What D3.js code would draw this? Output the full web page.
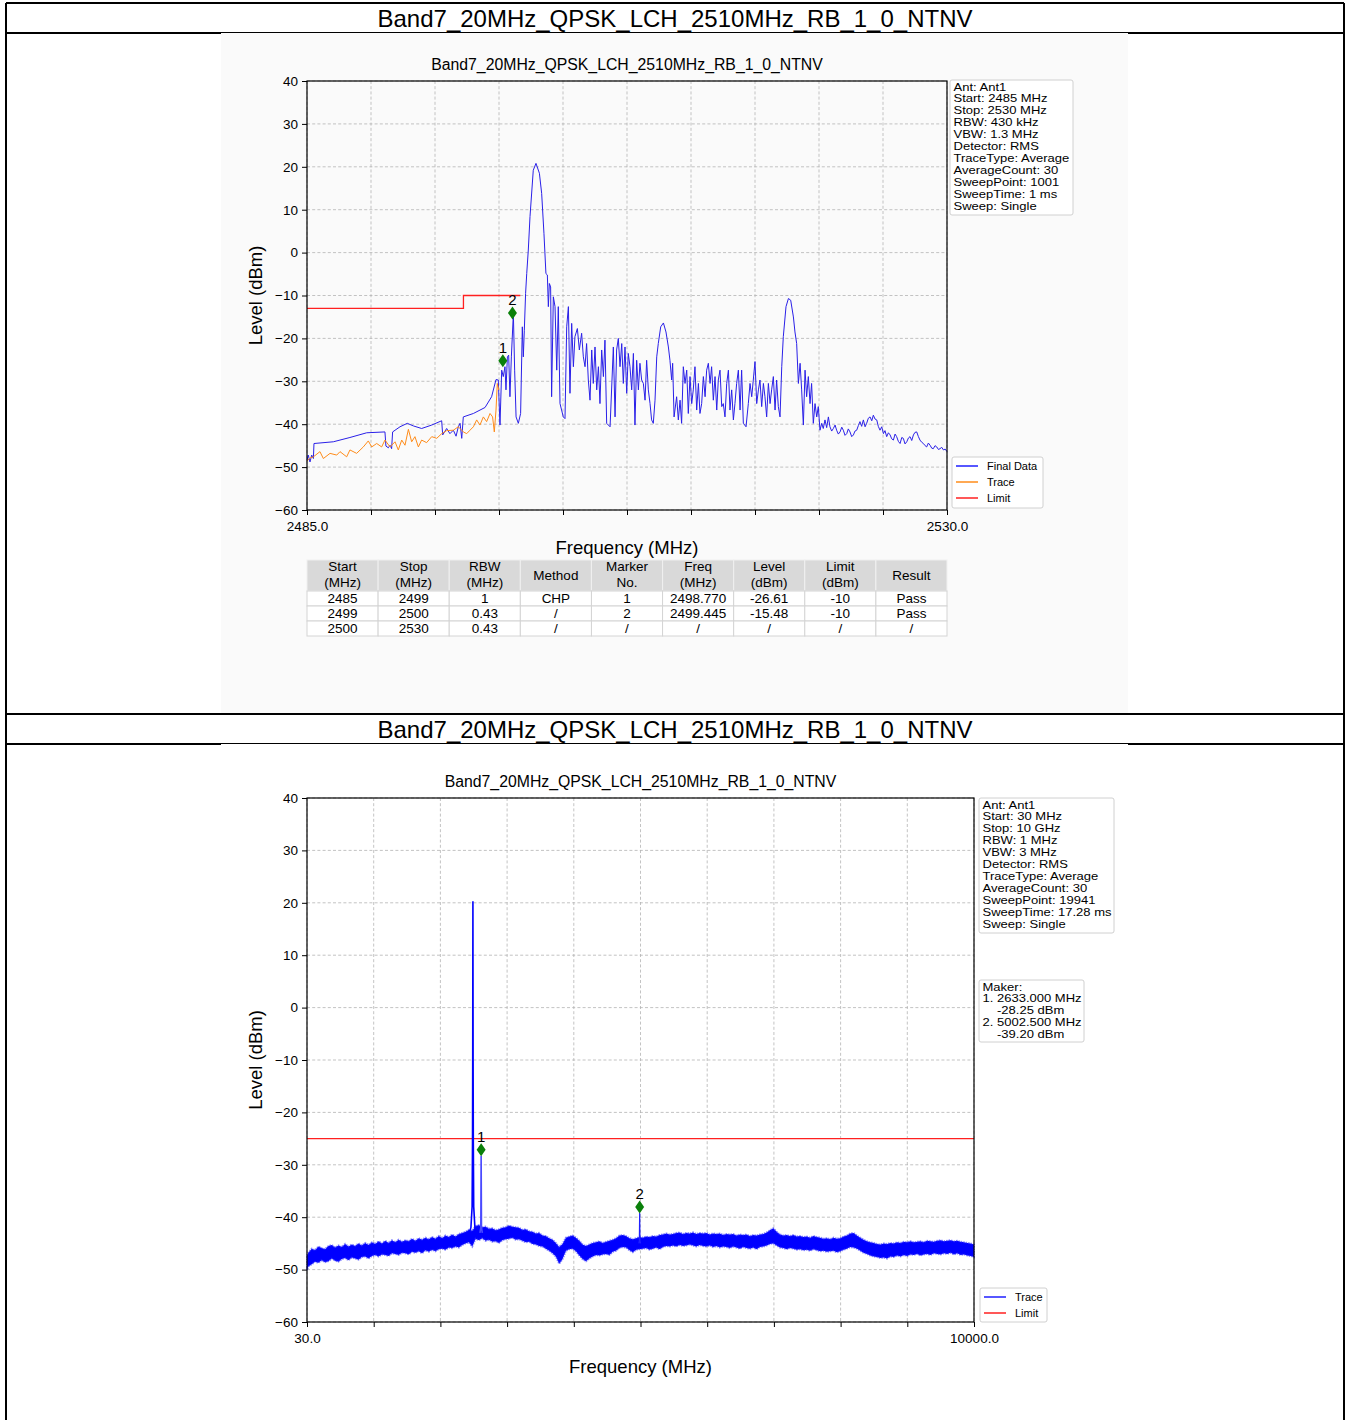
<!DOCTYPE html>
<html><head><meta charset="utf-8">
<script src="https://cdn.jsdelivr.net/npm/d3@7/dist/d3.min.js"></script>
<style>
body{margin:0;background:#fff;}
svg{display:block;}
text{font-family:"Liberation Sans",Arial,sans-serif;fill:#000;}
</style>
</head><body>
<svg id="c" width="1346" height="1420"></svg>
<script>
// ---------------- DATA ----------------
const rowTitle = "Band7_20MHz_QPSK_LCH_2510MHz_RB_1_0_NTNV";
const chartTitle = "Band7_20MHz_QPSK_LCH_2510MHz_RB_1_0_NTNV";

const yTickValues = [-60,-50,-40,-30,-20,-10,0,10,20,30,40];
const yTickLabels = ["\u221260","\u221250","\u221240","\u221230","\u221220","\u221210","0","10","20","30","40"];

const topXTicks = [2485,2489.5,2494,2498.5,2503,2507.5,2512,2516.5,2521,2525.5,2530];
const topXTickLabels = ["2485.0","","","","","","","","","","2530.0"];
const botXTicks = [30,1027,2024,3021,4018,5015,6012,7009,8006,9003,10000];
const botXTickLabels = ["30.0","","","","","","","","","","10000.0"];

// Top chart: Final Data (blue)
const finalFreq = [
2485.00,2485.09,2485.21,2485.33,2485.45,2485.49,2486.85,2488.02,2489.20,2490.48,
2490.55,2490.72,2490.84,2490.95,2491.02,2491.54,2492.05,2492.48,2493.06,2493.77,
2494.47,2494.54,2494.82,2495.05,2495.29,2495.48,2495.64,2495.76,2495.88,2495.99,
2496.70,2497.52,2497.98,2498.29,2498.45,2498.57,2498.69,2498.80,2498.92,2498.99,
2499.09,2499.18,2499.27,2499.37,2499.51,2499.60,2499.70,2499.86,2500.02,2500.14,
2500.21,2500.28,2500.37,2500.45,2500.56,2500.68,2500.91,2501.10,2501.34,2501.50,
2501.66,2501.80,2501.90,2501.97,2502.04,2502.13,2502.20,2502.32,2502.44,2502.56,
2502.67,2502.79,2503.02,2503.14,2503.26,2503.38,2503.49,2503.61,2503.73,2503.84,
2504.01,2504.15,2504.31,2504.43,2504.55,2504.66,2504.78,2504.90,2505.02,2505.13,
2505.25,2505.37,2505.49,2505.60,2505.72,2505.84,2505.95,2506.07,2506.31,2506.54,
2506.66,2506.77,2506.89,2507.01,2507.13,2507.24,2507.36,2507.48,2507.59,2507.71,
2507.83,2507.95,2508.06,2508.18,2508.30,2508.41,2508.53,2508.65,2508.77,2508.88,
2509.00,2509.12,2509.23,2509.35,2509.47,2509.59,2509.70,2509.87,2510.06,2510.24,
2510.41,2510.52,2510.64,2510.71,2510.81,2510.99,2511.11,2511.23,2511.34,2511.46,
2511.58,2511.70,2511.81,2511.93,2512.05,2512.16,2512.28,2512.40,2512.52,2512.63,
2512.75,2512.87,2512.99,2513.10,2513.22,2513.34,2513.45,2513.57,2513.69,2513.81,
2513.92,2514.04,2514.16,2514.27,2514.39,2514.51,2514.63,2514.74,2514.86,2514.98,
2515.09,2515.21,2515.33,2515.45,2515.56,2515.68,2515.87,2516.03,2516.15,2516.27,
2516.38,2516.50,2516.62,2516.74,2516.85,2516.97,2517.09,2517.20,2517.32,2517.44,
2517.56,2517.67,2517.79,2517.91,2518.02,2518.14,2518.26,2518.38,2518.49,2518.68,
2518.85,2519.01,2519.20,2519.31,2519.43,2519.55,2519.67,2519.78,2519.90,2520.02,
2520.13,2520.25,2520.37,2520.48,2520.60,2520.72,2520.84,2520.95,2521.07,2521.19,
2521.30,2521.42,2521.54,2521.66,2521.77,2521.89,2522.01,2522.13,2522.24,2522.36,
2522.48,2522.60,2522.71,2522.83,2522.95,2523.06,2523.18,2523.30,2523.42,2523.53,
2523.65,2523.77,2523.88,2524.00,2524.12,2524.24,2524.35,2524.47,2524.59,2524.71,
2524.82,2524.94,2525.06,2525.17,2525.29,2525.41,2525.53,2525.64,2525.76,2525.88,
2526.00,2526.11,2526.23,2526.35,2526.46,2526.58,2526.70,2526.82,2526.93,2527.05,
2527.17,2527.29,2527.40,2527.52,2527.64,2527.75,2527.87,2527.99,2528.10,2528.22,
2528.34,2528.46,2528.57,2528.69,2528.81,2528.93,2529.04,2529.16,2529.28,2529.40,
2529.51,2529.63,2529.75,2529.87,2530.00];
const finalLevel = [
-48.4,-47.2,-48.8,-47.2,-48.0,-44.5,-44.1,-43.1,-42.0,-41.8,
-45.1,-45.5,-44.9,-45.7,-41.8,-40.6,-39.8,-40.4,-41.0,-40.2,
-39.2,-42.5,-41.0,-42.2,-41.4,-42.8,-40.6,-39.8,-43.3,-38.3,
-37.5,-36.1,-33.6,-29.6,-29.7,-40.2,-27.4,-28.9,-26.6,-32.0,
-24.3,-23.9,-33.6,-24.3,-14.2,-27.4,-38.3,-39.8,-37.5,-17.3,
-24.3,-18.1,-9.5,-4.9,0.6,8.4,19.2,20.8,18.5,13.8,
4.5,-4.9,-5.2,-12.6,-7.2,-8.0,-33.6,-10.3,-12.6,-27.4,
-12.6,-35.2,-38.3,-38.7,-17.3,-12.6,-32.8,-16.5,-26.6,-19.6,
-17.7,-22.7,-18.8,-24.3,-26.6,-21.2,-29.7,-34.4,-22.7,-30.5,
-22.0,-32.0,-26.6,-35.2,-22.7,-28.9,-20.4,-39.8,-40.6,-22.0,
-38.3,-22.7,-20.0,-26.6,-21.2,-30.5,-22.0,-32.8,-23.5,-26.6,
-32.0,-23.5,-40.2,-25.1,-32.0,-25.8,-29.7,-30.5,-34.4,-25.1,
-32.0,-35.2,-39.0,-39.8,-34.4,-24.3,-21.2,-17.3,-16.4,-18.5,
-22.0,-25.1,-29.7,-25.8,-38.3,-33.6,-39.0,-34.4,-39.8,-26.6,
-30.5,-27.4,-37.5,-28.9,-35.2,-32.0,-26.6,-36.7,-30.5,-37.5,
-35.2,-28.9,-33.6,-27.4,-25.8,-30.5,-26.6,-34.4,-28.9,-36.7,
-29.7,-27.4,-35.9,-35.2,-38.3,-30.5,-27.4,-36.7,-32.0,-39.0,
-35.2,-30.5,-27.4,-36.7,-27.4,-39.8,-40.6,-35.2,-30.5,-33.6,
-29.7,-25.4,-35.2,-32.0,-29.7,-35.9,-30.5,-33.6,-38.3,-30.5,
-35.2,-32.0,-28.9,-36.7,-29.7,-35.9,-38.3,-26.6,-19.6,-12.6,
-10.7,-11.1,-15.0,-18.5,-21.2,-30.5,-25.8,-32.0,-40.2,-27.4,
-33.6,-28.9,-35.2,-30.5,-39.8,-35.2,-38.3,-35.9,-41.4,-39.8,
-41.0,-39.0,-40.8,-38.3,-40.6,-41.6,-41.0,-40.2,-41.4,-42.3,
-41.8,-40.7,-41.4,-42.6,-42.2,-41.1,-41.8,-42.9,-42.5,-41.6,
-41.4,-40.3,-39.4,-40.5,-39.0,-40.6,-39.8,-38.6,-38.3,-39.2,
-37.9,-38.8,-39.0,-40.5,-41.4,-40.6,-42.2,-41.5,-42.9,-42.0,
-42.5,-43.4,-43.7,-42.3,-42.9,-44.0,-44.5,-43.1,-43.3,-44.6,
-44.1,-43.2,-42.9,-43.8,-42.5,-41.9,-41.8,-42.9,-43.7,-44.2,
-44.5,-45.0,-45.3,-44.4,-44.9,-45.6,-45.7,-45.0,-45.3,-45.9,
-45.7,-45.4,-46.0,-45.8,-46.4];

// Top chart: Trace (orange)
const traceFreq = [
2485.00,2485.20,2485.45,2485.91,2486.15,2486.62,2487.09,2487.32,2487.79,2488.02,
2488.49,2488.96,2489.31,2489.55,2489.90,2490.25,2490.48,2490.84,2491.19,2491.42,
2491.66,2491.89,2492.13,2492.36,2492.59,2492.83,2493.06,2493.41,2493.77,2494.12,
2494.47,2494.82,2495.29,2495.64,2495.99,2496.23,2496.46,2496.70,2496.93,2497.16,
2497.40,2497.63,2497.87,2498.05,2498.17,2498.29,2498.38,2498.48];
const traceLevel = [
-48.6,-47.9,-47.6,-46.4,-48.0,-46.8,-47.2,-46.4,-47.6,-46.0,
-46.8,-45.3,-43.9,-45.3,-44.5,-45.3,-43.7,-45.3,-44.1,-46.0,
-43.7,-44.9,-41.2,-44.1,-42.9,-45.3,-43.7,-44.3,-42.9,-43.3,
-42.2,-41.5,-41.4,-40.6,-41.8,-42.2,-41.4,-40.6,-39.0,-40.2,
-38.3,-39.4,-37.5,-38.3,-41.8,-36.7,-30.5,-32.0];

// Top chart: Limit (red)
const limitFreq = [2485, 2496, 2496, 2500];
const limitLevel = [-13, -13, -10, -10];

// Top chart markers
const topMarkerFreq = [2498.770, 2499.445];
const topMarkerLevel = [-26.61, -15.48];
const topMarkerLabel = ["1", "2"];

const topInfo = ["Ant: Ant1","Start: 2485 MHz","Stop: 2530 MHz","RBW: 430 kHz","VBW: 1.3 MHz",
  "Detector: RMS","TraceType: Average","AverageCount: 30","SweepPoint: 1001","SweepTime: 1 ms","Sweep: Single"];
const topLegendNames = ["Final Data","Trace","Limit"];
const topLegendColors = ["#1f1fff","#ff8c1a","#ff2020"];

// Table
const tableHeader = [["Start","(MHz)"],["Stop","(MHz)"],["RBW","(MHz)"],["Method"],["Marker","No."],
  ["Freq","(MHz)"],["Level","(dBm)"],["Limit","(dBm)"],["Result"]];
const tableRows = [
  ["2485","2499","1","CHP","1","2498.770","-26.61","-10","Pass"],
  ["2499","2500","0.43","/","2","2499.445","-15.48","-10","Pass"],
  ["2500","2530","0.43","/","/","/","/","/","/"]];

// Bottom chart: noise floor of the trace (upper / lower edge of the noisy band)
const bandFreq = [30,50,100,150,200,250,300,350,400,450,500,550,600,650,700,750,800,850,900,950,
 1000,1050,1100,1150,1200,1250,1300,1350,1400,1450,1500,1550,1600,1650,1700,1750,1800,1850,1900,1950,
 2000,2050,2100,2150,2200,2250,2300,2350,2400,2450,2500,2550,2600,2650,2700,2750,2800,2850,2900,2950,
 3000,3050,3100,3150,3200,3250,3300,3350,3400,3450,3500,3550,3600,3650,3700,3750,3800,3850,3900,3950,
 4000,4050,4100,4150,4200,4250,4300,4350,4400,4450,4500,4550,4600,4650,4700,4750,4800,4850,4900,4950,
 5000,5050,5100,5150,5200,5250,5300,5350,5400,5450,5500,5550,5600,5650,5700,5750,5800,5850,5900,5950,
 6000,6050,6100,6150,6200,6250,6300,6350,6400,6450,6500,6550,6600,6650,6700,6750,6800,6850,6900,6950,
 7000,7050,7100,7150,7200,7250,7300,7350,7400,7450,7500,7550,7600,7650,7700,7750,7800,7850,7900,7950,
 8000,8050,8100,8150,8200,8250,8300,8350,8400,8450,8500,8550,8600,8650,8700,8750,8800,8850,8900,8950,
 9000,9050,9100,9150,9200,9250,9300,9350,9400,9450,9500,9550,9600,9650,9700,9750,9800,9850,9900,9950,10000];
const bandUpper = [-47.3,-46.8,-46.0,-46.3,-45.6,-45.9,-46.1,-45.5,-45.3,-45.8,-45.4,-45.7,-45.1,-45.6,-45.2,-45.5,-45.0,-45.4,-44.9,-45.3,
 -44.8,-45.1,-44.6,-45.0,-44.5,-44.9,-44.4,-44.8,-44.3,-44.7,-44.4,-44.6,-44.1,-44.5,-44.0,-44.3,-43.9,-44.2,-43.8,-44.1,
 -43.6,-44.0,-43.5,-43.8,-43.3,-43.7,-43.2,-43.0,-42.8,-42.4,-42.6,-41.7,-41.5,-41.9,-41.8,-42.2,-42.1,-42.5,-42.3,-42.0,
 -41.9,-41.6,-41.8,-41.9,-42.0,-42.4,-42.3,-42.7,-42.8,-43.1,-43.0,-43.5,-43.6,-44.0,-44.3,-44.9,-45.7,-45.1,-43.9,-43.7,
 -43.5,-43.9,-44.5,-45.2,-45.5,-45.2,-44.9,-44.8,-44.6,-44.9,-44.7,-44.5,-44.3,-44.0,-43.5,-43.4,-43.6,-44.0,-44.2,-44.0,
 -43.8,-43.9,-43.7,-43.8,-43.6,-43.7,-43.4,-43.3,-43.1,-43.3,-43.2,-43.0,-42.9,-43.2,-43.0,-43.1,-42.9,-43.2,-43.0,-43.1,
 -43.0,-43.3,-43.1,-43.2,-43.1,-43.4,-43.2,-43.3,-43.2,-43.5,-43.3,-43.4,-43.3,-43.6,-43.4,-43.5,-43.3,-43.2,-42.9,-42.5,
 -42.1,-42.8,-43.3,-43.5,-43.4,-43.6,-43.4,-43.7,-43.6,-43.8,-43.7,-43.9,-43.6,-43.8,-43.9,-44.1,-44.0,-44.2,-43.9,-44.1,
 -44.0,-43.7,-43.5,-43.1,-43.0,-43.5,-43.9,-44.3,-44.6,-44.8,-44.9,-45.1,-45.2,-45.0,-45.1,-44.9,-45.0,-44.8,-44.9,-44.7,
 -44.8,-44.6,-44.8,-44.7,-44.6,-44.8,-44.5,-44.6,-44.7,-44.5,-44.4,-44.6,-44.5,-44.4,-44.6,-44.5,-44.7,-44.8,-44.9,-45.0,-45.2];
const bandLower = [-50.1,-49.4,-49.0,-48.5,-48.7,-48.2,-48.6,-48.4,-47.9,-48.3,-48.5,-48.0,-47.8,-48.2,-47.7,-47.9,-48.1,-47.6,-47.5,-47.9,
 -47.4,-47.2,-47.5,-47.1,-47.2,-47.4,-46.9,-47.0,-47.2,-46.8,-46.9,-47.1,-46.6,-46.8,-46.5,-46.9,-46.3,-46.6,-46.2,-46.5,
 -46.1,-46.0,-46.2,-45.8,-45.9,-45.6,-45.8,-45.3,-45.0,-44.8,-45.6,-44.1,-44.4,-44.0,-44.5,-44.3,-44.7,-44.6,-44.9,-44.4,
 -44.2,-44.1,-43.9,-44.3,-44.2,-44.5,-44.8,-44.7,-45.1,-45.2,-45.5,-45.6,-46.0,-46.4,-46.9,-47.5,-48.9,-48.0,-46.4,-46.1,
 -46.0,-46.5,-47.3,-48.0,-48.4,-47.9,-47.5,-47.2,-47.3,-47.1,-47.0,-47.2,-46.6,-46.4,-45.9,-45.7,-45.8,-46.3,-46.7,-46.2,
 -46.1,-46.0,-45.9,-46.2,-46.0,-45.8,-46.1,-45.7,-45.5,-45.6,-45.4,-45.6,-45.3,-45.5,-45.4,-45.2,-45.4,-45.6,-45.3,-45.5,
 -45.6,-45.4,-45.7,-45.5,-45.8,-45.6,-45.7,-45.9,-45.6,-45.8,-46.0,-45.7,-45.9,-46.0,-45.8,-46.1,-45.7,-45.6,-45.4,-45.1,
 -45.0,-45.4,-45.8,-45.9,-46.1,-45.9,-46.0,-46.2,-46.1,-46.3,-46.2,-46.4,-46.1,-46.3,-46.5,-46.4,-46.6,-46.5,-46.4,-46.7,
 -46.5,-46.2,-46.0,-45.7,-45.8,-46.0,-46.4,-46.8,-47.0,-47.3,-47.5,-47.6,-47.8,-47.7,-47.9,-47.5,-47.6,-47.3,-47.5,-47.2,
 -47.4,-47.1,-47.2,-47.0,-47.3,-47.1,-47.0,-47.2,-46.9,-47.0,-47.1,-46.9,-47.0,-46.8,-47.1,-46.9,-47.2,-47.1,-47.3,-47.4,-47.6];

// Bottom chart: narrow spurs above the floor
const carrierFreq = [2440, 2480, 2498, 2504, 2507, 2510, 2513, 2516, 2522, 2540, 2580];
const carrierLevel = [-43.5, -42.0, -38.0, -26.0, -10.5, 20.3, -10.5, -25.5, -38.0, -42.0, -43.0];
const spur1Freq = [2615, 2628, 2633, 2638, 2651];
const spur1Level = [-43.0, -42.0, -28.25, -42.0, -43.0];
const spur2Freq = [4990, 4998, 5002.5, 5007, 5015];
const spur2Level = [-45.0, -44.5, -39.20, -44.5, -45.0];
const botLimitFreq = [30, 10000];
const botLimitLevel = [-25, -25];

const botMarkerFreq = [2633.000, 5002.500];
const botMarkerLevel = [-28.25, -39.20];
const botMarkerLabel = ["1", "2"];

const botInfo = ["Ant: Ant1","Start: 30 MHz","Stop: 10 GHz","RBW: 1 MHz","VBW: 3 MHz","Detector: RMS",
  "TraceType: Average","AverageCount: 30","SweepPoint: 19941","SweepTime: 17.28 ms","Sweep: Single"];
const botMaker = ["Maker:","1. 2633.000 MHz","    -28.25 dBm","2. 5002.500 MHz","    -39.20 dBm"];
const botLegendNames = ["Trace","Limit"];
const botLegendColors = ["#1f1fff","#ff2020"];

// ---------------- DRAW ----------------
const svg = d3.select("#c");
const FONT = '"Liberation Sans", Arial, sans-serif';

const frame = svg.append("g").attr("stroke","#000").attr("stroke-width",2);
[[6,3,6,1420],[1344,3,1344,1420],[6,3,1344,3],[6,33,1344,33],[6,714,1344,714],[6,744,1344,744]]
  .forEach(l=>frame.append("line").attr("x1",l[0]).attr("y1",l[1]).attr("x2",l[2]).attr("y2",l[3]));
svg.append("text").attr("x",675).attr("y",26.5).attr("text-anchor","middle").attr("font-size",24).text(rowTitle);
svg.append("text").attr("x",675).attr("y",737.5).attr("text-anchor","middle").attr("font-size",24).text(rowTitle);

svg.append("rect").attr("x",221).attr("y",33).attr("width",907).attr("height",680).attr("fill","#fafafa");
svg.append("rect").attr("x",221).attr("y",744).attr("width",907).attr("height",676).attr("fill","#ffffff");

function drawAxes(cfg){
  const g = svg.append("g");
  const x = d3.scaleLinear().domain(cfg.xDomain).range([cfg.left, cfg.right]);
  const y = d3.scaleLinear().domain([-60,40]).range([cfg.bottom, cfg.top]);
  const grid = g.append("g").attr("stroke","#b4b4b4").attr("stroke-width",0.8).attr("stroke-dasharray","3,2.2");
  cfg.xTicks.forEach(t=>grid.append("line").attr("x1",x(t)).attr("x2",x(t)).attr("y1",cfg.top).attr("y2",cfg.bottom));
  yTickValues.forEach(t=>grid.append("line").attr("x1",cfg.left).attr("x2",cfg.right).attr("y1",y(t)).attr("y2",y(t)));
  const ya = d3.axisLeft(y).tickValues(yTickValues).tickSize(5).tickPadding(4)
      .tickFormat((d,i)=>yTickLabels[i]);
  const xa = d3.axisBottom(x).tickValues(cfg.xTicks).tickSize(5).tickPadding(6)
      .tickFormat((d,i)=>cfg.xTickLabels[i]);
  const gy = g.append("g").attr("transform",`translate(${cfg.left},0)`).call(ya);
  const gx = g.append("g").attr("transform",`translate(0,${cfg.bottom})`).call(xa);
  [gx,gy].forEach(a=>{a.select(".domain").remove();
    a.selectAll("text").attr("font-size",13.5).attr("font-family",FONT).attr("fill","#000");
    a.selectAll("line").attr("stroke","#000");});
  g.append("text").attr("x",(cfg.left+cfg.right)/2).attr("y",cfg.top-11).attr("text-anchor","middle")
    .attr("font-size",15.8).text(chartTitle);
  g.append("text").attr("transform",`translate(262,${(cfg.top+cfg.bottom)/2}) rotate(-90)`)
    .attr("text-anchor","middle").attr("font-size",18.5).text("Level (dBm)");
  g.append("text").attr("x",(cfg.left+cfg.right)/2).attr("y",cfg.bottom+cfg.xLabelDy).attr("text-anchor","middle")
    .attr("font-size",18.5).text("Frequency (MHz)");
  return {g,x,y};
}
function frameBox(cfg){
  svg.append("rect").attr("x",cfg.left).attr("y",cfg.top).attr("width",cfg.right-cfg.left)
    .attr("height",cfg.bottom-cfg.top).attr("fill","none").attr("stroke","#000").attr("stroke-width",1.2);
}
// tightly packed annotation text, as in the reference (condensed line spacing)
function textBox(x0,y0,w,h,lines,step){
  svg.append("rect").attr("x",x0).attr("y",y0).attr("width",w).attr("height",h).attr("rx",2)
    .attr("fill","#fff").attr("fill-opacity",0.85).attr("stroke","#d0d0d0").attr("stroke-width",1);
  lines.forEach((t,i)=>svg.append("text")
    .attr("transform",`translate(${x0+3.5},${y0+10.5+i*step}) scale(1.29,1.1)`)
    .attr("font-size",10.1).style("white-space","pre").text(t));
}
function legendBox(x0,y0,w,h,names,colors){
  svg.append("rect").attr("x",x0).attr("y",y0).attr("width",w).attr("height",h).attr("rx",2)
    .attr("fill","#fff").attr("fill-opacity",0.85).attr("stroke","#d0d0d0").attr("stroke-width",1);
  names.forEach((n,i)=>{
    const yy = y0+9+i*16;
    svg.append("line").attr("x1",x0+4).attr("x2",x0+26).attr("y1",yy).attr("y2",yy)
      .attr("stroke",colors[i]).attr("stroke-width",1.5);
    svg.append("text").attr("x",x0+35).attr("y",yy+4).attr("font-size",11).text(n);
  });
}
function drawMarkers(ax, freqs, levels, labels){
  freqs.forEach((f,i)=>{
    const cx = ax.x(f), cy = ax.y(levels[i]) - 6;
    ax.g.append("path").attr("d",`M${cx},${cy-6.5}L${cx+4.5},${cy}L${cx},${cy+6.5}L${cx-4.5},${cy}Z`)
      .attr("fill","#0a800a");
    ax.g.append("text").attr("x",cx).attr("y",cy-8).attr("text-anchor","middle").attr("font-size",15).text(labels[i]);
  });
}

// ---- Top chart ----
const topCfg = {left:307,right:947,top:81,bottom:510,xDomain:[2485,2530],xTicks:topXTicks,xTickLabels:topXTickLabels,xLabelDy:44};
const topAx = drawAxes(topCfg);
const lineTop = (fs,ls)=>d3.line().x((d,i)=>topAx.x(fs[i])).y((d,i)=>topAx.y(ls[i]))(fs);
const plotTop = topAx.g.append("g");
plotTop.append("path").attr("d",lineTop(finalFreq,finalLevel)).attr("fill","none").attr("stroke","#2a20e8").attr("stroke-width",1);
plotTop.append("path").attr("d",lineTop(traceFreq,traceLevel)).attr("fill","none").attr("stroke","#ff8c1a").attr("stroke-width",1);
plotTop.append("path").attr("d",lineTop(limitFreq,limitLevel)).attr("fill","none").attr("stroke","#ff2020").attr("stroke-width",1.3);
drawMarkers(topAx, topMarkerFreq, topMarkerLevel, topMarkerLabel);
frameBox(topCfg);
textBox(950,80,123,135,topInfo,11.9);
legendBox(952,457,91,51,topLegendNames,topLegendColors);

// table
(function(){
  const x0=307, w=640/9, hy=560, hh=31, rh=15;
  const tg = svg.append("g");
  tableHeader.forEach((h,i)=>{
    tg.append("rect").attr("x",x0+i*w).attr("y",hy).attr("width",w).attr("height",hh)
      .attr("fill","#d9d9d9").attr("stroke","#f0f0f0").attr("stroke-width",1);
    if(h.length===2){
      tg.append("text").attr("x",x0+i*w+w/2).attr("y",hy+11).attr("text-anchor","middle").attr("font-size",13.5).text(h[0]);
      tg.append("text").attr("x",x0+i*w+w/2).attr("y",hy+27).attr("text-anchor","middle").attr("font-size",13.5).text(h[1]);
    } else {
      tg.append("text").attr("x",x0+i*w+w/2).attr("y",hy+19.5).attr("text-anchor","middle").attr("font-size",13.5).text(h[0]);
    }
  });
  tableRows.forEach((r,j)=>{
    r.forEach((c,i)=>{
      tg.append("rect").attr("x",x0+i*w).attr("y",hy+hh+j*rh).attr("width",w).attr("height",rh)
        .attr("fill","#fff").attr("stroke","#d4d4d4").attr("stroke-width",1);
      tg.append("text").attr("x",x0+i*w+w/2).attr("y",hy+hh+j*rh+11.5).attr("text-anchor","middle")
        .attr("font-size",13.5).text(c);
    });
  });
})();

// ---- Bottom chart ----
const botCfg = {left:307,right:974,top:798,bottom:1322,xDomain:[30,10000],xTicks:botXTicks,xTickLabels:botXTickLabels,xLabelDy:51};
const botAx = drawAxes(botCfg);
const lineBot = (fs,ls)=>d3.line().x((d,i)=>botAx.x(fs[i])).y((d,i)=>botAx.y(ls[i]))(fs);
botAx.g.append("path").attr("d",lineBot(botLimitFreq,botLimitLevel)).attr("fill","none").attr("stroke","#ff2020").attr("stroke-width",1.2);
const band = d3.area().x((d,i)=>botAx.x(bandFreq[i])).y0((d,i)=>botAx.y(bandLower[i])).y1((d,i)=>botAx.y(bandUpper[i]));
botAx.g.append("path").attr("d",band(bandFreq)).attr("fill","#0000ff")
  .attr("stroke","#2b2bff").attr("stroke-width",2).attr("stroke-opacity",0.55).attr("stroke-dasharray","1.5,1");
botAx.g.append("path").attr("d",lineBot(carrierFreq,carrierLevel)).attr("fill","none").attr("stroke","#0000ff").attr("stroke-width",1.6);
botAx.g.append("path").attr("d",lineBot(spur1Freq,spur1Level)).attr("fill","none").attr("stroke","#4a4aff").attr("stroke-width",1.6);
botAx.g.append("path").attr("d",lineBot(spur2Freq,spur2Level)).attr("fill","none").attr("stroke","#2020ff").attr("stroke-width",1.2);
drawMarkers(botAx, botMarkerFreq, botMarkerLevel, botMarkerLabel);
frameBox(botCfg);
textBox(979,798,135,135,botInfo,11.9);
textBox(979,980,105,62,botMaker,11.9);
legendBox(980,1288,67,34,botLegendNames,botLegendColors);
</script>
</body></html>
